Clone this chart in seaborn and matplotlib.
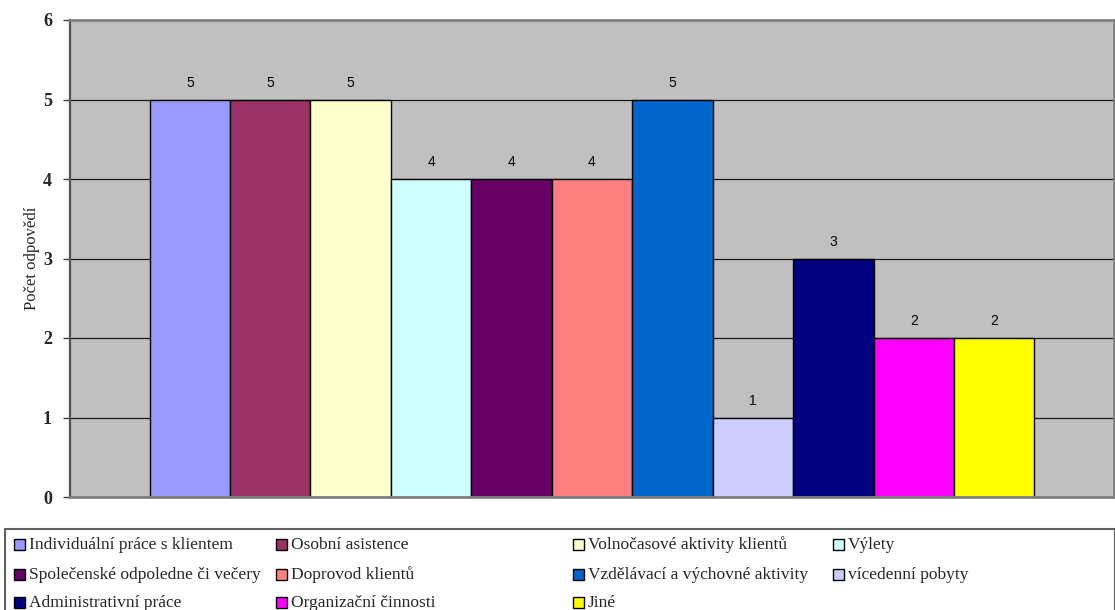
import matplotlib
matplotlib.use("Agg")
import matplotlib.pyplot as plt
from matplotlib.patches import Rectangle
import pandas as pd
import seaborn as sns

# Activities and number of answers
kategorie = [
    "Individuální práce s klientem",
    "Osobní asistence",
    "Volnočasové aktivity klientů",
    "Výlety",
    "Společenské odpoledne či večery",
    "Doprovod klientů",
    "Vzdělávací a výchovné aktivity",
    "vícedenní pobyty",
    "Administrativní práce",
    "Organizační činnosti",
    "Jiné",
]
pocet = [5, 5, 5, 4, 4, 4, 5, 1, 3, 2, 2]
barvy = ["#9999FF", "#993366", "#FFFFCC", "#CCFFFF", "#660066", "#FF8080",
         "#0066CC", "#CCCCFF", "#000080", "#FF00FF", "#FFFF00"]
y_ticks = [0, 1, 2, 3, 4, 5, 6]
y_label = "Počet odpovědí"

df = pd.DataFrame({"kategorie": kategorie, "pocet": pocet})

sns.set_theme(style="white")
plt.rcParams["font.family"] = ["Liberation Serif", "DejaVu Serif"]

W, H = 1115, 610
fig = plt.figure(figsize=(W / 100, H / 100), dpi=100)
ax = fig.add_axes([70 / W, 1 - 497 / H, (1114 - 70) / W, (497 - 20) / H])
ax.set_facecolor("#C0C0C0")

sns.barplot(data=df, x="kategorie", y="pocet", hue="kategorie",
            palette=dict(zip(kategorie, barvy)), order=kategorie,
            hue_order=kategorie, width=1.0, dodge=False, legend=False,
            edgecolor="black", linewidth=1.0, saturation=1, ax=ax)

ax.set_xlim(-1.49, len(kategorie) - 1 + 1.49)
ax.set_ylim(y_ticks[0], y_ticks[-1])
ax.set_yticks(y_ticks)
ax.set_yticklabels([str(t) for t in y_ticks], fontweight="bold", fontsize=13,
                   family=["Liberation Serif"])
ax.set_xticks([])
ax.set_xlabel("")
ax.set_ylabel("")

# horizontal gridlines behind the bars
ax.set_axisbelow(True)
ax.yaxis.grid(True, color="#1a1a1a", linewidth=0.9)
ax.xaxis.grid(False)

ax.tick_params(axis="y", which="both", left=True, direction="out", length=5,
               width=1, color="#404040", pad=8)

for side in ["top", "right", "bottom"]:
    ax.spines[side].set_color("#808080")
    ax.spines[side].set_linewidth(2)
ax.spines["left"].set_color("#505050")
ax.spines["left"].set_linewidth(1.6)

for cont in ax.containers:
    ax.bar_label(cont, fmt="%d", padding=7, fontsize=10,
                 family=["Liberation Sans"], color="black")

fig.text(32 / W, 1 - 258 / H, y_label, rotation=90, ha="center", va="center",
         fontsize=12, family=["Liberation Serif"])

# legend box with four columns laid out row by row
fig.patches.append(Rectangle((5 / W, -0.05), (W - 5) / W, 0.05 + (610 - 529) / H,
                             transform=fig.transFigure, facecolor="white",
                             edgecolor="#606060", linewidth=1.5))
col_x = [14, 276, 573, 833]
row_y = [544, 574, 602]
sq = 11
for i, (lab, col) in enumerate(zip(kategorie, barvy)):
    r, c = divmod(i, 4)
    x0, yc = col_x[c], row_y[r]
    fig.patches.append(Rectangle((x0 / W, 1 - (yc + sq / 2) / H), sq / W, sq / H,
                                 transform=fig.transFigure, facecolor=col,
                                 edgecolor="black", linewidth=1.0))
    fig.text((x0 + sq + 4) / W, 1 - (yc + 1) / H, lab, ha="left", va="center",
             fontsize=12.5, family=["Liberation Serif"])

fig.savefig("out.png", dpi=100)
